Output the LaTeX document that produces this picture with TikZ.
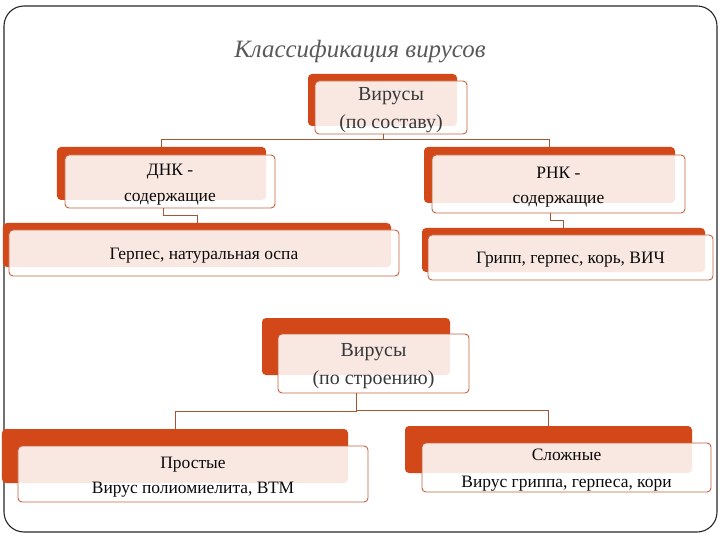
\documentclass[tikz,border=0pt]{standalone}
\usepackage{fontspec}
\setmainfont{Liberation Serif}
\definecolor{orgbg}{RGB}{210,72,24}
\definecolor{frontline}{RGB}{196,98,62}
\definecolor{connline}{RGB}{165,85,50}
\definecolor{titlegray}{RGB}{89,89,89}
\definecolor{textdark}{RGB}{10,10,10}
\tikzset{
  backbox/.style={fill=orgbg, draw=none, rounded corners=4bp, inner sep=0pt, outer sep=0pt},
  frontbox/.style={fill=white, fill opacity=0.88, draw=frontline, line width=0.9bp,
    rounded corners=4bp, inner sep=0pt, outer sep=0pt},
  boxtext/.style={align=center, inner sep=0pt, text=textdark, yshift=-3bp},
  bigtext/.style={boxtext, font=\fontsize{20}{28}\selectfont, text=black!78},
  smalltext/.style={boxtext, font=\fontsize{17.5}{25.5}\selectfont},
  conn/.style={draw=connline, line width=0.9bp},
}
\begin{document}
\begin{tikzpicture}[x=1bp,y=-1bp]
\useasboundingbox (0,0) rectangle (720,540);
\draw[line width=1.1bp, rounded corners=20bp, draw=black!85] (4,6) rectangle (717,532);
\node[font=\fontsize{25}{30}\selectfont\itshape, text=titlegray] (title) at (360,52) {Классификация вирусов};

% box 1
\node[backbox, minimum width=149bp, minimum height=52bp] (b1) at (382.5,100) {};
\node[frontbox, minimum width=152bp, minimum height=53bp] (f1) at (391,107.5) {};
\node[bigtext] (t1) at (f1.center) {Вирусы\\(по составу)};
% box 2
\node[backbox, minimum width=209bp, minimum height=53bp] (b2) at (161.5,173.5) {};
\node[frontbox, minimum width=210bp, minimum height=53bp] (f2) at (170,181.5) {};
\node[smalltext] (t2) at (f2.center) {ДНК -\\содержащие};
% box 3
\node[backbox, minimum width=388bp, minimum height=44bp] (b3) at (197,245) {};
\node[frontbox, minimum width=390bp, minimum height=46bp] (f3) at (204,253) {};
\node[smalltext] (t3) at (f3.center) {Герпес, натуральная оспа};
% box 4
\node[backbox, minimum width=251bp, minimum height=56bp] (b4) at (549.5,175) {};
\node[frontbox, minimum width=253bp, minimum height=58bp] (f4) at (558.5,184) {};
\node[smalltext] (t4) at (f4.center) {РНК -\\содержащие};
% box 5
\node[backbox, minimum width=283bp, minimum height=44bp] (b5) at (563.5,250) {};
\node[frontbox, minimum width=285bp, minimum height=45bp] (f5) at (570.5,257.5) {};
\node[smalltext, yshift=1bp] (t5) at (f5.center) {Грипп, герпес, корь, ВИЧ};
% box 6
\node[backbox, minimum width=188bp, minimum height=57bp] (b6) at (356,346.5) {};
\node[frontbox, minimum width=191bp, minimum height=59bp] (f6) at (373.5,363.5) {};
\node[bigtext] (t6) at (f6.center) {Вирусы\\(по строению)};
% box 7
\node[backbox, minimum width=346bp, minimum height=54bp] (b7) at (175,456) {};
\node[frontbox, minimum width=350bp, minimum height=56bp] (f7) at (193,474) {};
\node[smalltext] (t7) at (f7.center) {Простые\\Вирус полиомиелита, ВТМ};
% box 8
\node[backbox, minimum width=287bp, minimum height=47bp] (b8) at (548.5,449.5) {};
\node[frontbox, minimum width=289bp, minimum height=49bp] (f8) at (566.5,467.5) {};
\node[smalltext, font=\fontsize{17.5}{27}\selectfont] (t8) at (f8.center) {Сложные\\Вирус гриппа, герпеса, кори};

% connectors
\draw[conn] ([xshift=-8bp]f1.south) -- ++(0,5) -| (b2.north);
\draw[conn] ([xshift=-8bp]f1.south) -- ++(0,5) -| (b4.north);
\draw[conn] ([xshift=-7bp]f2.south) -- ++(0,7) -| (b3.north);
\draw[conn] ([xshift=-8.5bp]f4.south) -- ++(0,7) -| (b5.north);
\draw[conn] ([xshift=-17.5bp]f6.south) -- ++(0,18) -| (b7.north);
\draw[conn] ([xshift=-17.5bp]f6.south) -- ++(0,17) -| (b8.north);
\end{tikzpicture}
\end{document}
